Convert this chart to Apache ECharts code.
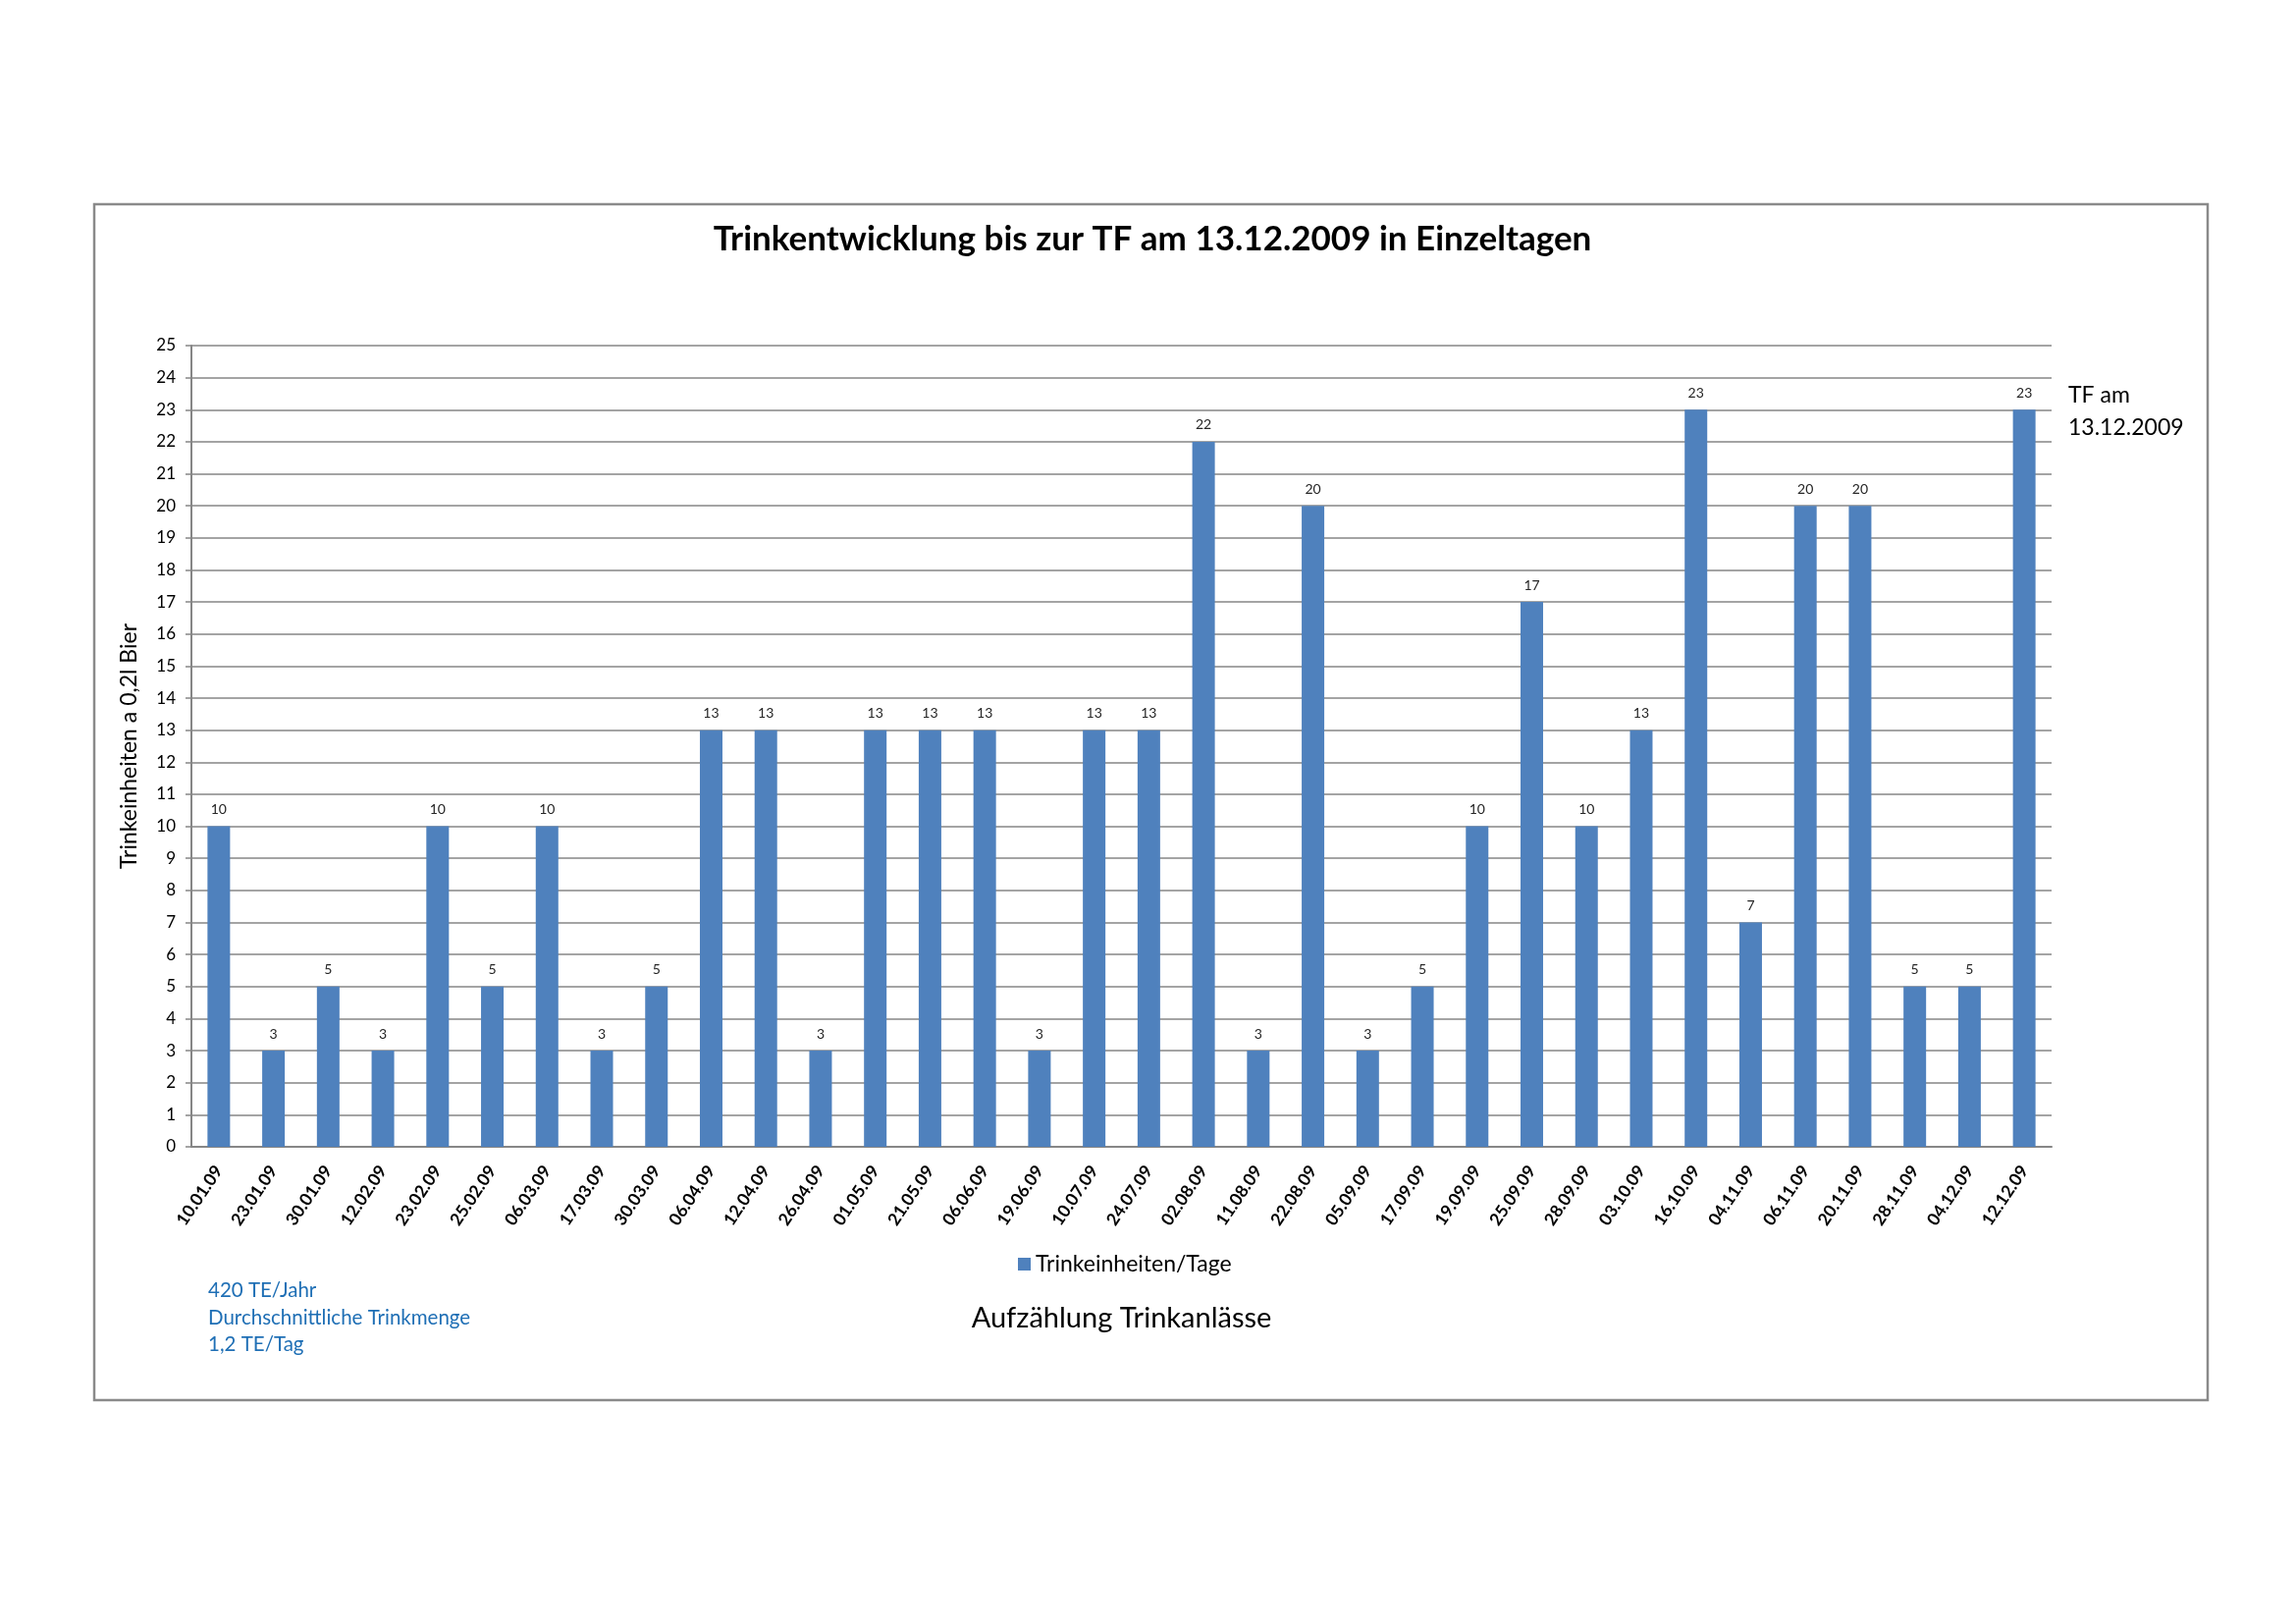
<!DOCTYPE html>
<html>
<head>
<meta charset="utf-8">
<script src="https://cdn.jsdelivr.net/npm/echarts@6/dist/echarts.min.js"></script>
<style>
html,body{margin:0;padding:0;background:#fff;}
#chart{width:2339px;height:1653px;}
</style>
</head>
<body>
<div id="chart"></div>
<script>
const categories = ["10.01.09","23.01.09","30.01.09","12.02.09","23.02.09","25.02.09","06.03.09","17.03.09","30.03.09","06.04.09","12.04.09","26.04.09","01.05.09","21.05.09","06.06.09","19.06.09","10.07.09","24.07.09","02.08.09","11.08.09","22.08.09","05.09.09","17.09.09","19.09.09","25.09.09","28.09.09","03.10.09","16.10.09","04.11.09","06.11.09","20.11.09","28.11.09","04.12.09","12.12.09"];
const values = [10,3,5,3,10,5,10,3,5,13,13,3,13,13,13,3,13,13,22,3,20,3,5,10,17,10,13,23,7,20,20,5,5,23];
const seriesName = "Trinkeinheiten/Tage";
const titleText = "Trinkentwicklung bis zur TF am 13.12.2009 in Einzeltagen";
const yAxisName = "Trinkeinheiten a 0,2l Bier";
const xAxisName = "Aufzählung Trinkanlässe";
const noteLines = ["420 TE/Jahr","Durchschnittliche Trinkmenge","1,2 TE/Tag"];
const sideNote = ["TF am","13.12.2009"];

const FONT = "Lato, 'Open Sans', sans-serif";
const chart = echarts.init(document.getElementById('chart'));
chart.setOption({
  animation: false,
  backgroundColor: '#ffffff',
  textStyle: {fontFamily: FONT},
  title: {
    text: titleText,
    left: 1169, top: 221, textAlign: 'center',
    textStyle: {fontFamily: FONT, fontSize: 35, fontWeight: 'bold', color: '#000'}
  },
  legend: {
    data: [seriesName],
    left: 1037, top: 1276, padding: 0,
    icon: 'rect', itemWidth: 13, itemHeight: 13, itemGap: 5,
    textStyle: {fontFamily: FONT, fontSize: 23, color: '#000'}
  },
  grid: {left: 195, top: 352, right: 249, bottom: 485, containLabel: false},
  xAxis: {
    type: 'category',
    data: categories,
    name: xAxisName,
    nameLocation: 'middle',
    nameGap: 160,
    nameTextStyle: {fontFamily: FONT, fontSize: 29, color: '#000'},
    axisLine: {lineStyle: {color: '#868686', width: 2}},
    axisTick: {alignWithLabel: true, length: 6, lineStyle: {color: '#868686', width: 1.5}},
    axisLabel: {rotate: 56, fontFamily: FONT, fontSize: 17.5, fontWeight: 'bold', color: '#000', margin: 21, interval: 0}
  },
  yAxis: {
    type: 'value',
    min: 0, max: 25, interval: 1,
    name: yAxisName,
    nameLocation: 'middle',
    nameGap: 52,
    nameRotate: 90,
    nameTextStyle: {fontFamily: FONT, fontSize: 23, color: '#000'},
    axisLine: {show: true, lineStyle: {color: '#868686', width: 2}},
    axisTick: {show: true, length: 6, lineStyle: {color: '#868686', width: 1.5}},
    axisLabel: {fontFamily: FONT, fontSize: 17, color: '#000', margin: 16},
    splitLine: {lineStyle: {color: '#868686', width: 1.5}}
  },
  series: [{
    name: seriesName,
    type: 'bar',
    data: values,
    barWidth: 23,
    itemStyle: {color: '#4F81BD'},
    label: {show: true, position: 'top', distance: 10, fontFamily: FONT, fontSize: 14, color: '#262626'}
  }],
  graphic: [
    {type: 'rect', shape: {x: 96, y: 208, width: 2153, height: 1218},
     style: {fill: 'none', stroke: '#8a8a8a', lineWidth: 2.5}, silent: true, z: -1},
    {type: 'text', left: 2107, top: 386,
     style: {text: sideNote.join('\n'), font: '23px ' + FONT, fill: '#000', lineHeight: 33}},
    {type: 'text', left: 212, top: 1301,
     style: {text: noteLines.join('\n'), font: '20.5px ' + FONT, fill: '#1F6FB5', lineHeight: 27.5}}
  ]
});
</script>
</body>
</html>
